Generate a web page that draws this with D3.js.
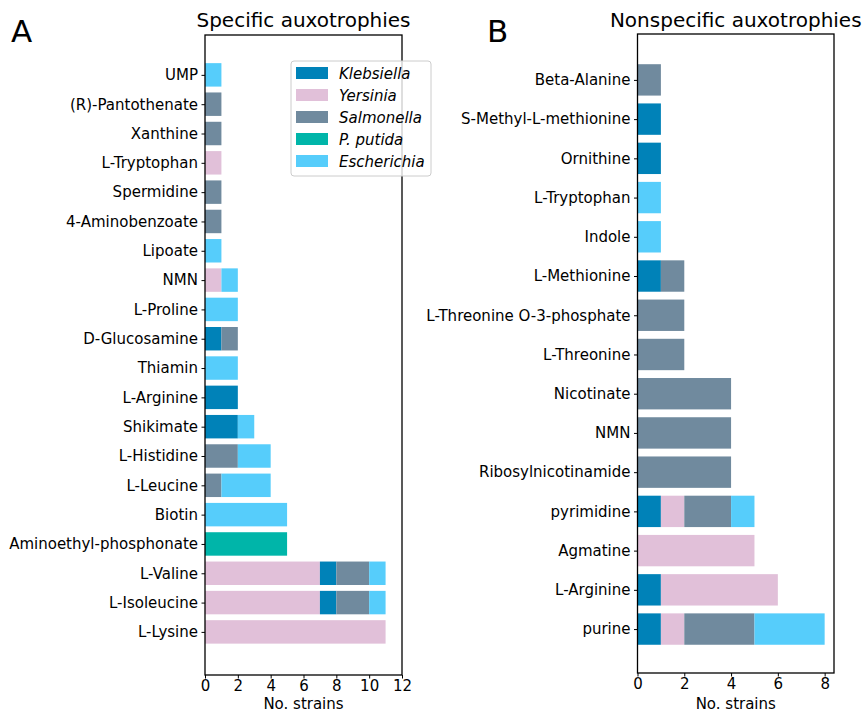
<!DOCTYPE html>
<html>
<head>
<meta charset="utf-8">
<script src="https://cdn.jsdelivr.net/npm/d3@7"></script>
<style>
  body { margin: 0; background: #fff; }
  svg { font-family: "DejaVu Sans", sans-serif; }
</style>
</head>
<body>
<svg id="chart" width="863" height="713"></svg>
<script>
// species (legend order) and colours
const species = ["Klebsiella", "Yersinia", "Salmonella", "P. putida", "Escherichia"];
const speciesColors = ["#0082b8", "#e1c0d9", "#708a9e", "#00b5a9", "#56cdfb"];

// panel A - specific auxotrophies, listed top to bottom
const catsA = ["UMP", "(R)-Pantothenate", "Xanthine", "L-Tryptophan", "Spermidine",
  "4-Aminobenzoate", "Lipoate", "NMN", "L-Proline", "D-Glucosamine", "Thiamin",
  "L-Arginine", "Shikimate", "L-Histidine", "L-Leucine", "Biotin",
  "Aminoethyl-phosphonate", "L-Valine", "L-Isoleucine", "L-Lysine"];
const klebA  = [0, 0, 0, 0, 0, 0, 0, 0, 0, 1, 0, 2, 2, 0, 0, 0, 0, 1, 1, 0];
const yersA  = [0, 0, 0, 1, 0, 0, 0, 1, 0, 0, 0, 0, 0, 0, 0, 0, 0, 7, 7, 11];
const salmA  = [0, 1, 1, 0, 1, 1, 0, 0, 0, 1, 0, 0, 0, 2, 1, 0, 0, 2, 2, 0];
const putiA  = [0, 0, 0, 0, 0, 0, 0, 0, 0, 0, 0, 0, 0, 0, 0, 0, 5, 0, 0, 0];
const escheA = [1, 0, 0, 0, 0, 0, 1, 1, 2, 0, 2, 0, 1, 2, 3, 5, 0, 1, 1, 0];

// panel B - nonspecific auxotrophies, listed top to bottom
const catsB = ["Beta-Alanine", "S-Methyl-L-methionine", "Ornithine", "L-Tryptophan",
  "Indole", "L-Methionine", "L-Threonine O-3-phosphate", "L-Threonine", "Nicotinate",
  "NMN", "Ribosylnicotinamide", "pyrimidine", "Agmatine", "L-Arginine", "purine"];
const klebB  = [0, 1, 1, 0, 0, 1, 0, 0, 0, 0, 0, 1, 0, 1, 1];
const yersB  = [0, 0, 0, 0, 0, 0, 0, 0, 0, 0, 0, 1, 5, 5, 1];
const salmB  = [1, 0, 0, 0, 0, 1, 2, 2, 4, 4, 4, 2, 0, 0, 3];
const putiB  = [0, 0, 0, 0, 0, 0, 0, 0, 0, 0, 0, 0, 0, 0, 0];
const escheB = [0, 0, 0, 1, 1, 0, 0, 0, 0, 0, 0, 1, 0, 0, 3];

const xTicksA = [0, 2, 4, 6, 8, 10, 12];
const xTicksB = [0, 2, 4, 6, 8];

const svg = d3.select("#chart");
const color = d3.scaleOrdinal().domain(species).range(speciesColors);

function rows(cats, series) {
  return cats.map((c, i) => {
    const r = {cat: c, idx: cats.length - 1 - i};
    species.forEach((s, k) => r[s] = series[k][i]);
    return r;
  });
}

function drawPanel(opt) {
  const x = d3.scaleLinear().domain(opt.xDomain).range([opt.left, opt.right]);
  const y = d3.scaleLinear().domain(opt.yDomain).range([opt.bottom, opt.top]);
  const band = (y(0) - y(1)) * 0.8;
  const data = rows(opt.cats, opt.series);
  const stacked = d3.stack().keys(opt.order)(data);

  const g = svg.append("g");

  g.selectAll("g.layer")
    .data(stacked)
    .enter()
    .append("g")
    .attr("fill", d => color(d.key))
    .selectAll("rect")
    .data(d => d.filter(p => p[1] > p[0]))
    .enter()
    .append("rect")
    .attr("x", d => x(d[0]))
    .attr("width", d => x(d[1]) - x(d[0]))
    .attr("y", d => y(d.data.idx) - band / 2)
    .attr("height", band);

  // frame
  g.append("rect")
    .attr("x", opt.left).attr("y", opt.top)
    .attr("width", opt.right - opt.left).attr("height", opt.bottom - opt.top)
    .attr("fill", "none").attr("stroke", "#000").attr("stroke-width", 1.3);

  const yAxis = d3.axisLeft(y)
    .tickValues(data.map(d => d.idx))
    .tickFormat(i => data.find(d => d.idx === i).cat)
    .tickSize(3.5).tickPadding(3.5);
  g.append("g")
    .attr("transform", `translate(${opt.left},0)`)
    .call(yAxis)
    .call(a => a.select(".domain").remove())
    .selectAll("text").attr("font-size", 15).attr("fill", "#000")
    .attr("font-family", "DejaVu Sans");

  const xAxis = d3.axisBottom(x).tickValues(opt.xTicks).tickSize(3.5).tickPadding(2);
  g.append("g")
    .attr("transform", `translate(0,${opt.bottom})`)
    .call(xAxis)
    .call(a => a.select(".domain").remove())
    .selectAll("text").attr("font-size", 15).attr("fill", "#000")
    .attr("font-family", "DejaVu Sans");

  g.append("text")
    .attr("x", (opt.left + opt.right) / 2).attr("y", 709)
    .attr("text-anchor", "middle").attr("font-size", 15)
    .text("No. strains");

  g.append("text")
    .attr("x", (opt.left + opt.right) / 2).attr("y", 27)
    .attr("text-anchor", "middle").attr("font-size", 20)
    .text(opt.title);

  g.append("text")
    .attr("x", opt.letterX).attr("y", 42)
    .attr("font-size", 31)
    .text(opt.letter);
}

drawPanel({
  cats: catsA, series: [klebA, yersA, salmA, putiA, escheA],
  order: ["Yersinia", "Klebsiella", "Salmonella", "P. putida", "Escherichia"],
  left: 205, right: 402, top: 35, bottom: 675,
  xDomain: [0, 12], yDomain: [-1.47, 20.36], xTicks: xTicksA,
  title: "Specific auxotrophies", letter: "A", letterX: 11
});

drawPanel({
  cats: catsB, series: [klebB, yersB, salmB, putiB, escheB],
  order: ["Klebsiella", "Yersinia", "Salmonella", "P. putida", "Escherichia"],
  left: 637.5, right: 834, top: 34, bottom: 673,
  xDomain: [0, 8.4], yDomain: [-1.12, 15.17], xTicks: xTicksB,
  title: "Nonspecific auxotrophies", letter: "B", letterX: 487
});

// legend (panel A)
const leg = svg.append("g").attr("transform", "translate(291,61)");
leg.append("rect")
  .attr("width", 140).attr("height", 115).attr("rx", 3)
  .attr("fill", "#fff").attr("fill-opacity", 0.8)
  .attr("stroke", "#ccc").attr("stroke-width", 1);
const items = leg.selectAll("g.item")
  .data(species)
  .enter()
  .append("g")
  .attr("transform", (d, i) => `translate(0,${12 + i * 22})`);
items.append("rect")
  .attr("x", 5).attr("y", -6).attr("width", 32).attr("height", 12)
  .attr("fill", d => color(d));
items.append("text")
  .attr("x", 48).attr("y", 5.5)
  .attr("font-size", 15).attr("font-style", "italic")
  .text(d => d);
</script>
</body>
</html>
